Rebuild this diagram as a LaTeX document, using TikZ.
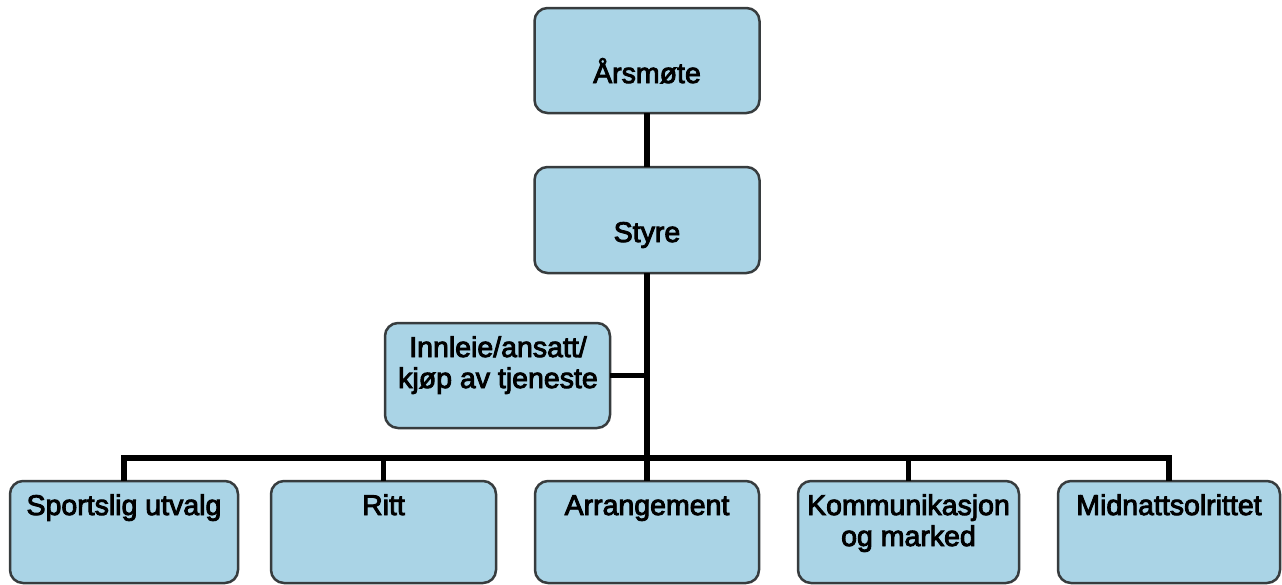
\documentclass[tikz,border=0pt]{standalone}
\usepackage{fontspec}
\setmainfont{Liberation Sans}
\newcommand{\heavytext}[1]{\special{pdf:literal direct 2 Tr 0.9 w}#1\special{pdf:literal direct 0 Tr}}
\definecolor{boxfill}{RGB}{170,212,230}
\definecolor{boxline}{RGB}{55,60,62}
\begin{document}
\begin{tikzpicture}[x=1pt,y=-1pt,
  orgbox/.style={draw=boxline, line width=2.5pt, fill=boxfill, rounded corners=13pt, inner sep=0pt, outer sep=0pt},
  lbl/.style={anchor=base, inner sep=0pt, align=center, font=\fontsize{28.5}{31}\selectfont},
  conn/.style={line width=5.5pt, black}]
\useasboundingbox (0,0) rectangle (1282,584);
% boxes
\node[orgbox, minimum width=225pt, minimum height=105pt] (aars) at (647,60.5) {};
\node[orgbox, minimum width=225pt, minimum height=106pt] (styre) at (647,220) {};
\node[orgbox, minimum width=225pt, minimum height=105pt] (innl) at (497.5,375.5) {};
\node[orgbox, minimum width=228pt, minimum height=102pt] (b1) at (124,532) {};
\node[orgbox, minimum width=225pt, minimum height=102pt] (b2) at (383.5,532) {};
\node[orgbox, minimum width=224pt, minimum height=102pt] (b3) at (647,532) {};
\node[orgbox, minimum width=221pt, minimum height=102pt] (b4) at (908.5,532) {};
\node[orgbox, minimum width=222pt, minimum height=102pt] (b5) at (1169,532) {};
% texts (base = baseline of last line)
\node[lbl] (taars) at (647,83) {\heavytext{Årsmøte}};
\node[lbl] (tstyre) at (647,242) {\heavytext{Styre}};
\node[lbl] (tinnl) at (498,388) {\heavytext{Innleie/ansatt/}\\\heavytext{kjøp av tjeneste}};
\node[lbl] (tb1) at (124,515) {\heavytext{Sportslig utvalg}};
\node[lbl] (tb2) at (383.5,515) {\heavytext{Ritt}};
\node[lbl] (tb3) at (647,515) {\heavytext{Arrangement}};
\node[lbl] (tb4) at (908.5,546) {\heavytext{Kommunikasjon}\\\heavytext{og marked}};
\node[lbl] (tb5) at (1169,515) {\heavytext{Midnattsolrittet}};
% connectors
\coordinate (bus) at (647,458);
\draw[conn] (aars.south) -- (styre.north);
\draw[conn] (styre.south) -- (b3.north);
\draw[conn] (innl.east) -- (innl.east -| styre.south);
\draw[conn] (b1.north) |- (bus) -| (b5.north);
\draw[conn] (b2.north) -- (b2.north |- bus);
\draw[conn] (b4.north) -- (b4.north |- bus);
\end{tikzpicture}
\end{document}
